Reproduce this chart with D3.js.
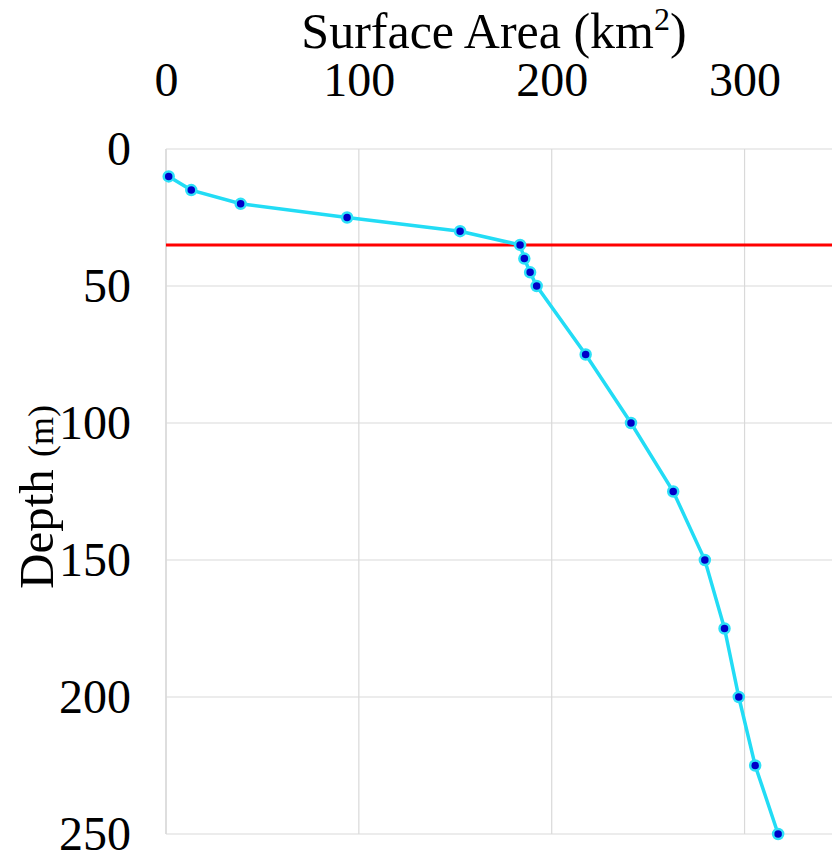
<!DOCTYPE html>
<html>
<head>
<meta charset="utf-8">
<script src="https://cdn.jsdelivr.net/npm/d3@7"></script>
<style>
  html, body { margin: 0; padding: 0; background: #fff; }
  svg { display: block; }
  .tick text { font-family: "Liberation Serif", "Times New Roman", serif; fill: #000; }
</style>
</head>
<body>
<div id="chart"></div>
<script>
// depth (m) vs surface area (km2)
const depths = [10, 15, 20, 25, 30, 35, 40, 45, 50, 75, 100, 125, 150, 175, 200, 225, 250];
const areas = [1.4, 13.1, 38.7, 93.9, 152.5, 183.6, 185.8, 188.8, 192.2, 217.6, 241.1, 263.0, 279.4, 289.6, 297.0, 305.5, 317.4];
const xTicks = [0, 100, 200, 300];
const yTicks = [0, 50, 100, 150, 200, 250];
const thermoclineDepth = 35;

const width = 832, height = 857;
const margin = { top: 149, left: 166, bottom: 23, right: -9 };
const innerW = width - margin.left - margin.right;
const innerH = height - margin.top - margin.bottom;

const svg = d3.select('#chart').append('svg')
  .attr('width', width)
  .attr('height', height);

const x = d3.scaleLinear().domain([0, 350]).range([0, innerW]);
const y = d3.scaleLinear().domain([0, 250]).range([0, innerH]);

const g = svg.append('g')
  .attr('transform', 'translate(' + margin.left + ',' + margin.top + ')');

// grid
g.append('g').selectAll('line.v')
  .data(xTicks.concat([350]))
  .join('line')
  .attr('x1', d => x(d)).attr('x2', d => x(d))
  .attr('y1', 0).attr('y2', innerH)
  .attr('stroke', d => d === 0 ? '#c8c8c8' : '#d9d9d9')
  .attr('stroke-width', 1.2);

g.append('g').selectAll('line.h')
  .data(yTicks)
  .join('line')
  .attr('x1', 0).attr('x2', innerW)
  .attr('y1', d => y(d)).attr('y2', d => y(d))
  .attr('stroke', '#d9d9d9')
  .attr('stroke-width', 1.2);

// axes
const xAxis = d3.axisTop(x).tickValues(xTicks).tickSize(0).tickPadding(53);
g.append('g').call(xAxis)
  .call(s => s.select('.domain').remove())
  .selectAll('text').attr('font-size', 48);

const yAxis = d3.axisLeft(y).tickValues(yTicks).tickSize(0).tickPadding(35);
g.append('g').call(yAxis)
  .call(s => s.select('.domain').remove())
  .selectAll('text').attr('font-size', 48);

// axis titles
const titleX = svg.append('text')
  .attr('x', 494).attr('y', 48)
  .attr('text-anchor', 'middle')
  .attr('font-family', '"Liberation Serif", "Times New Roman", serif')
  .attr('font-size', 50);
titleX.append('tspan').text('Surface Area (km');
titleX.append('tspan').attr('font-size', 32).attr('dy', -18).text('2');
titleX.append('tspan').attr('dy', 18).text(')');

const titleY = svg.append('text')
  .attr('transform', 'translate(53,' + 497 + ') rotate(-90)')
  .attr('text-anchor', 'middle')
  .attr('font-family', '"Liberation Serif", "Times New Roman", serif')
  .attr('font-size', 49);
titleY.append('tspan').text('Depth ');
titleY.append('tspan').attr('font-size', 36).text('(m)');

// thermocline line
g.append('line')
  .attr('x1', 0).attr('x2', innerW)
  .attr('y1', y(thermoclineDepth)).attr('y2', y(thermoclineDepth))
  .attr('stroke', '#ff0000')
  .attr('stroke-width', 3);

// data line + markers
const points = depths.map((d, i) => ({ depth: d, area: areas[i] }));

const line = d3.line()
  .x(d => x(d.area))
  .y(d => y(d.depth));

g.append('path')
  .datum(points)
  .attr('d', line)
  .attr('fill', 'none')
  .attr('stroke', '#22dcf5')
  .attr('stroke-width', 3.5);

g.append('g').selectAll('circle')
  .data(points)
  .join('circle')
  .attr('cx', d => x(d.area))
  .attr('cy', d => y(d.depth))
  .attr('r', 5)
  .attr('fill', '#0000c8')
  .attr('stroke', '#2ee0f7')
  .attr('stroke-width', 2.5);
</script>
</body>
</html>
